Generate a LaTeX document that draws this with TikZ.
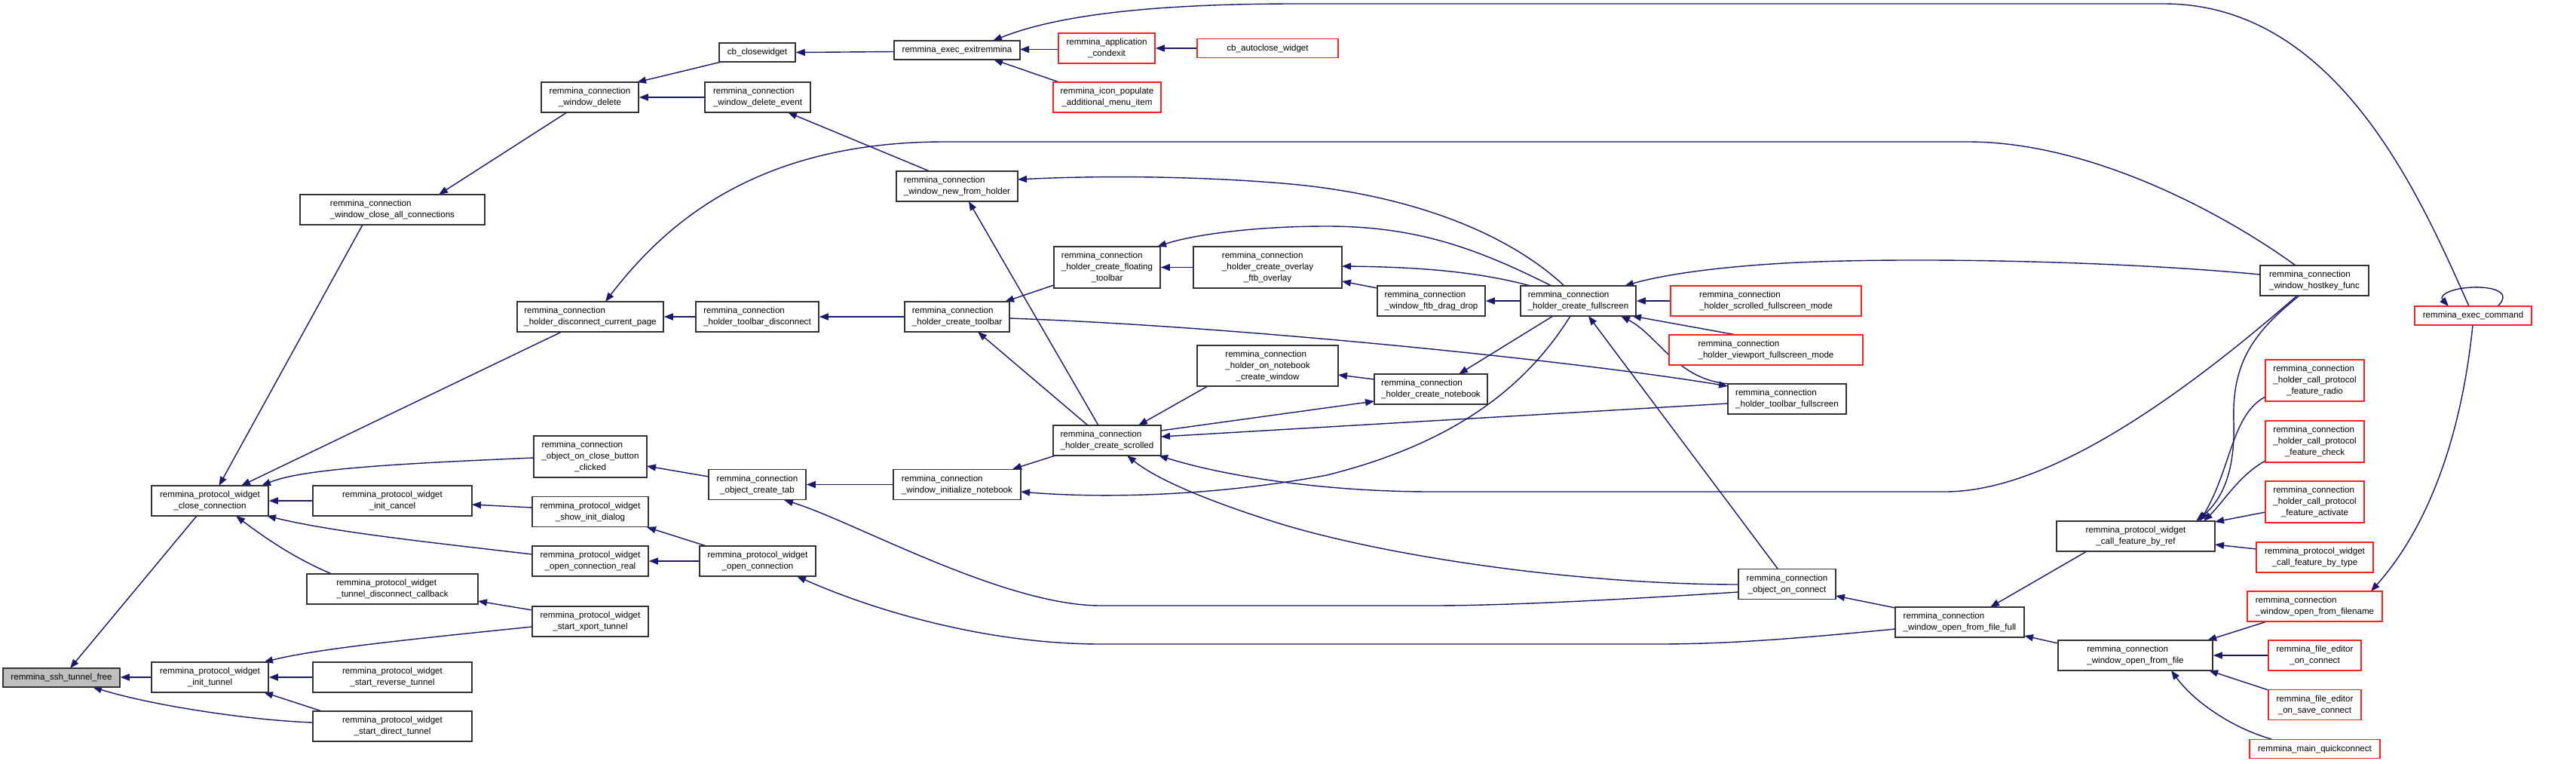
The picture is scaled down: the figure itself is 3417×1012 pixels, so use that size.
\documentclass[tikz,border=0pt]{standalone}
\usepackage{fontspec}
\setmainfont{Liberation Sans}
\usetikzlibrary{arrows.meta,calc}
\definecolor{edgec}{HTML}{191970}
\definecolor{nodeb}{HTML}{333333}
\definecolor{rootf}{HTML}{BFBFBF}
\definecolor{redb}{HTML}{FF2020}
\newcommand{\nf}{\fontsize{11.6}{15}\selectfont}
\newcommand{\lA}[2]{\begin{tabular}{@{}l@{}}#1\\\multicolumn{1}{@{}c@{}}{#2}\end{tabular}}
\newcommand{\lB}[3]{\begin{tabular}{@{}l@{}}#1\\#2\\\multicolumn{1}{@{}c@{}}{#3}\end{tabular}}
\pgfdeclarelayer{bg}
\pgfsetlayers{bg,main}
\tikzset{
  bx/.style={draw=nodeb, line width=1.5pt, fill=white, inner sep=0pt, rectangle, font=\nf, text=black},
  rb/.style={bx, draw=redb},
  ha/.style={minimum height=25pt},
  hb/.style={minimum height=40pt},
  hc/.style={minimum height=55pt},
  e/.style={draw=edgec, line width=1.4pt, -{Triangle[length=12pt,width=9pt]}, fill=none}
}
\begin{document}
\begin{tikzpicture}[x=1pt,y=-1pt]
\useasboundingbox (0,0) rectangle (3417,1012);
\begin{pgfonlayer}{bg}
\fill[white] (0,0) rectangle (3417,1012);
\end{pgfonlayer}
% nodes
\node[bx,ha,fill=rootf,minimum width=155pt] (free) at (81.5,898.5) {remmina\_ssh\_tunnel\_free};
\node[bx,hb,minimum width=155pt] (close) at (278.5,664) {\lA{remmina\_protocol\_widget}{\_close\_connection}};
\node[bx,hb,minimum width=155pt] (inittun) at (278.5,898) {\lA{remmina\_protocol\_widget}{\_init\_tunnel}};
\node[bx,hb,minimum width=245pt] (closeall) at (520.5,278) {\lA{remmina\_connection}{\_window\_close\_all\_connections}};
\node[bx,hb,minimum width=211pt] (cancel) at (520.5,664) {\lA{remmina\_protocol\_widget}{\_init\_cancel}};
\node[bx,hb,minimum width=227pt] (tdcb) at (520.5,781) {\lA{remmina\_protocol\_widget}{\_tunnel\_disconnect\_callback}};
\node[bx,hb,minimum width=211pt] (rev) at (520.5,898) {\lA{remmina\_protocol\_widget}{\_start\_reverse\_tunnel}};
\node[bx,hb,minimum width=211pt] (direct) at (520.5,963) {\lA{remmina\_protocol\_widget}{\_start\_direct\_tunnel}};
\node[bx,hb,minimum width=129pt] (delete) at (782.5,129) {\lA{remmina\_connection}{\_window\_delete}};
\node[bx,hb,minimum width=194pt] (discpage) at (783,420) {\lA{remmina\_connection}{\_holder\_disconnect\_current\_page}};
\node[bx,hc,minimum width=150pt] (closebtn) at (783,605.5) {\lB{remmina\_connection}{\_object\_on\_close\_button}{\_clicked}};
\node[bx,hb,minimum width=154pt] (showinit) at (783,678.5) {\lA{remmina\_protocol\_widget}{\_show\_init\_dialog}};
\node[bx,hb,minimum width=154pt] (openreal) at (783,744) {\lA{remmina\_protocol\_widget}{\_open\_connection\_real}};
\node[bx,hb,minimum width=154pt] (xport) at (783,824) {\lA{remmina\_protocol\_widget}{\_start\_xport\_tunnel}};
\node[bx,ha,minimum width=101pt] (closewidget) at (1004.5,69.5) {cb\_closewidget};
\node[bx,hb,minimum width=140pt] (delevent) at (1005,129) {\lA{remmina\_connection}{\_window\_delete\_event}};
\node[bx,hb,minimum width=163pt] (tbdisc) at (1004.5,420) {\lA{remmina\_connection}{\_holder\_toolbar\_disconnect}};
\node[bx,hb,minimum width=129pt] (createtab) at (1004.5,642.5) {\lA{remmina\_connection}{\_object\_create\_tab}};
\node[bx,hb,minimum width=154pt] (openconn) at (1005,744) {\lA{remmina\_protocol\_widget}{\_open\_connection}};
\node[bx,ha,minimum width=167pt] (exit) at (1269.5,66.5) {remmina\_exec\_exitremmina};
\node[bx,hb,minimum width=161pt] (newholder) at (1269.5,247) {\lA{remmina\_connection}{\_window\_new\_from\_holder}};
\node[bx,hb,minimum width=139pt] (createtoolbar) at (1269.5,420) {\lA{remmina\_connection}{\_holder\_create\_toolbar}};
\node[bx,hb,minimum width=169pt] (initnb) at (1269.5,642.5) {\lA{remmina\_connection}{\_window\_initialize\_notebook}};
\node[rb,hb,minimum width=128pt] (condexit) at (1468,64) {\lA{remmina\_application}{\_condexit}};
\node[rb,hb,minimum width=143pt] (iconpop) at (1468.5,129) {\lA{remmina\_icon\_populate}{\_additional\_menu\_item}};
\node[bx,hc,minimum width=141pt] (floating) at (1468.5,354.5) {\lB{remmina\_connection}{\_holder\_create\_floating}{\_toolbar}};
\node[bx,hb,minimum width=143pt] (scrolled) at (1468.5,584) {\lA{remmina\_connection}{\_holder\_create\_scrolled}};
\node[rb,ha,minimum width=187pt] (autoclose) at (1681.5,64) {cb\_autoclose\_widget};
\node[bx,hc,minimum width=197pt] (overlay) at (1681.5,354.5) {\lB{remmina\_connection}{\_holder\_create\_overlay}{\_ftb\_overlay}};
\node[bx,minimum height=54pt,minimum width=187pt] (onnbcreate) at (1681.5,485) {\lB{remmina\_connection}{\_holder\_on\_notebook}{\_create\_window}};
\node[bx,hb,minimum width=143pt] (ftbdrag) at (1898.5,399) {\lA{remmina\_connection}{\_window\_ftb\_drag\_drop}};
\node[bx,hb,minimum width=150pt] (createnb) at (1898,516) {\lA{remmina\_connection}{\_holder\_create\_notebook}};
\node[bx,hb,minimum width=153pt] (fullscreen) at (2093.5,399) {\lA{remmina\_connection}{\_holder\_create\_fullscreen}};
\node[rb,hb,minimum width=253pt] (scrollfs) at (2342.5,399) {\lA{remmina\_connection}{\_holder\_scrolled\_fullscreen\_mode}};
\node[rb,hb,minimum width=257pt] (viewportfs) at (2342.5,464) {\lA{remmina\_connection}{\_holder\_viewport\_fullscreen\_mode}};
\node[bx,hb,minimum width=157pt] (tbfull) at (2370.5,529) {\lA{remmina\_connection}{\_holder\_toolbar\_fullscreen}};
\node[bx,hb,minimum width=129pt] (onconnect) at (2370.5,774.5) {\lA{remmina\_connection}{\_object\_on\_connect}};
\node[bx,hb,minimum width=171pt] (openfull) at (2599.5,825) {\lA{remmina\_connection}{\_window\_open\_from\_file\_full}};
\node[bx,hb,minimum width=210pt] (featref) at (2833,711) {\lA{remmina\_protocol\_widget}{\_call\_feature\_by\_ref}};
\node[bx,hb,minimum width=205pt] (openfile) at (2832.5,869) {\lA{remmina\_connection}{\_window\_open\_from\_file}};
\node[bx,hb,minimum width=144pt] (hostkey) at (3070,372) {\lA{remmina\_connection}{\_window\_hostkey\_func}};
\node[rb,ha,minimum width=155pt] (execcmd) at (3280.5,418.5) {remmina\_exec\_command};
\node[rb,hc,minimum width=131pt] (radio) at (3070.5,504.5) {\lB{remmina\_connection}{\_holder\_call\_protocol}{\_feature\_radio}};
\node[rb,hc,minimum width=131pt] (check) at (3070.5,585.5) {\lB{remmina\_connection}{\_holder\_call\_protocol}{\_feature\_check}};
\node[rb,hc,minimum width=131pt] (activate) at (3070.5,665.5) {\lB{remmina\_connection}{\_holder\_call\_protocol}{\_feature\_activate}};
\node[rb,hb,minimum width=155pt] (bytype) at (3070.5,739) {\lA{remmina\_protocol\_widget}{\_call\_feature\_by\_type}};
\node[rb,hb,minimum width=179pt] (openfilename) at (3070.5,804) {\lA{remmina\_connection}{\_window\_open\_from\_filename}};
\node[rb,hb,minimum width=123pt] (feoc) at (3070.5,869) {\lA{remmina\_file\_editor}{\_on\_connect}};
\node[rb,hb,minimum width=123pt] (fesc) at (3070.5,934.5) {\lA{remmina\_file\_editor}{\_on\_save\_connect}};
\node[rb,ha,minimum width=173pt] (quick) at (3070.5,993) {remmina\_main\_quickconnect};
% edges
\begin{pgfonlayer}{bg}
\draw[e] ($(close)+(-17.5,20)$) -- ($(free)+(11.5,-12.5)$);
\draw[e] (inittun.west) -- (free.east |- inittun.west);
\draw[e] ($(direct)+(-105.5,-5)$) .. controls (330,955) and (200,935) .. ($(free)+(41.5,12.5)$);
\draw[e] ($(closeall)+(-39.5,20)$) -- ($(close)+(12,-20)$);
\draw[e] ($(discpage)+(-38,20)$) -- ($(close)+(41.5,-20)$);
\draw[e] ($(closebtn)+(-75,1.5)$) .. controls (520,615) and (400,622) .. ($(close)+(68.5,-20)$);
\draw[e] (cancel.west) -- (close.east);
\draw[e] ($(openreal)+(-77,-9)$) .. controls (560,718) and (440,705) .. ($(close)+(75.5,20)$);
\draw[e] ($(tdcb)+(-80.5,-20)$) .. controls (390,740) and (350,712) .. ($(close)+(34.5,20)$);
\draw[e] ($(xport)+(-77,7)$) .. controls (560,846) and (420,860) .. ($(inittun)+(71.5,-20)$);
\draw[e] (rev.west) -- (inittun.east);
\draw[e] ($(direct)+(-93.5,-20)$) -- ($(inittun)+(71.5,20)$);
\draw[e] ($(delete)+(-30.5,20)$) -- ($(closeall)+(61.5,-20)$);
\draw[e] ($(closewidget)+(-47.5,12.5)$) -- ($(delete)+(62.5,-20)$);
\draw[e] (delevent.west) -- (delete.east);
\draw[e] ($(newholder)+(-36.5,-20)$) -- ($(delevent)+(40,20)$);
\draw[e] ($(exit)+(-83.5,2)$) -- (closewidget.east);
\draw[e] ($(condexit)+(-64,1.5)$) -- ($(exit)+(83.5,-1)$);
\draw[e] ($(iconpop)+(-63.5,-20)$) -- ($(exit)+(48.5,12.5)$);
\draw[e] ($(execcmd)+(-5.5,-12.5)$) .. controls (3210,260) and (3100,5) .. (2870,5) -- (1720,5) .. controls (1500,5) and (1390,25) .. ($(exit)+(47.5,-12.5)$);
\draw[e] (autoclose.west) -- (condexit.east);
\draw[e] (tbdisc.west) -- (discpage.east);
\draw[e] ($(hostkey)+(-25,-20)$) .. controls (2960,290) and (2780,188) .. (2610,188) -- (1253,188) .. controls (1000,188) and (880,300) .. ($(discpage)+(20,-20)$);
\draw[e] ($(fullscreen)+(-18.5,-20)$) .. controls (1990,300) and (1850,255) .. (1700,243) .. controls (1580,233) and (1450,233) .. ($(newholder)+(80.5,-9)$);
\draw[e] ($(scrolled)+(-11.5,-20)$) -- ($(newholder)+(15.5,20)$);
\draw[e] (createtoolbar.west) -- (tbdisc.east);
\draw[e] ($(floating)+(-70.5,23.5)$) -- ($(createtoolbar)+(63.5,-20)$);
\draw[e] ($(scrolled)+(-25.5,-20)$) -- ($(createtoolbar)+(27.5,20)$);
\draw[e] ($(createtoolbar)+(69.5,2)$) .. controls (1650,433) and (2100,480) .. ($(tbfull)+(-78.5,-17)$);
\draw[e] (overlay.west) -- (floating.east);
\draw[e] ($(fullscreen)+(-35.5,-20)$) .. controls (1960,330) and (1880,300) .. (1760,300) .. controls (1660,300) and (1580,312) .. ($(floating)+(66.5,-27.5)$);
\draw[e] ($(fullscreen)+(-63.5,-20)$) .. controls (1960,360) and (1880,354) .. ($(overlay)+(98.5,-1.5)$);
\draw[e] ($(ftbdrag)+(-71.5,-17)$) -- ($(overlay)+(98.5,18.5)$);
\draw[e] (fullscreen.west) -- (ftbdrag.east);
\draw[e] ($(createnb)+(-75,-13)$) -- ($(onnbcreate)+(93.5,12)$);
\draw[e] ($(fullscreen)+(-33.5,20)$) -- ($(createnb)+(37,-20)$);
\draw[e] ($(scrolled)+(71.5,-13)$) -- ($(createnb)+(-75,16)$);
\draw[e] ($(fullscreen)+(-10.5,20)$) .. controls (2020,520) and (1920,590) .. (1760,630) .. controls (1600,660) and (1450,660) .. ($(initnb)+(84.5,9.5)$);
\draw[e] ($(tbfull)+(-75.5,-20)$) .. controls (2225,505) and (2200,445) .. ($(fullscreen)+(56.5,20)$);
\draw[e] ($(viewportfs)+(-39.5,-20)$) -- ($(fullscreen)+(71.5,20)$);
\draw[e] (scrollfs.west) -- (fullscreen.east);
\draw[e] ($(onconnect)+(-12.5,-20.5)$) -- ($(fullscreen)+(13.5,20)$);
\draw[e] ($(hostkey)+(-72,-8)$) .. controls (2800,345) and (2500,340) .. (2350,350) .. controls (2260,356) and (2200,366) .. ($(fullscreen)+(61.5,-20)$);
\draw[e] ($(onnbcreate)+(-79.5,27)$) -- ($(scrolled)+(41.5,-20)$);
\draw[e] ($(tbfull)+(-78.5,6)$) -- ($(scrolled)+(71.5,-5)$);
\draw[e] ($(hostkey)+(-23,20)$) .. controls (2900,520) and (2720,652) .. (2580,652) -- (1900,652) .. controls (1750,652) and (1620,630) .. ($(scrolled)+(68.5,20)$);
\draw[e] ($(scrolled)+(-68.5,20)$) -- ($(initnb)+(73.5,-20.5)$);
\draw[e] ($(onconnect)+(-64.5,0.5)$) .. controls (2100,775) and (1850,740) .. (1700,695) .. controls (1620,670) and (1540,640) .. ($(scrolled)+(26.5,20)$);
\draw[e] ($(onconnect)+(-64.5,10.5)$) .. controls (2150,795) and (2000,803) .. (1900,803) -- (1460,803) .. controls (1330,803) and (1130,690) .. ($(createtab)+(35.5,20.5)$);
\draw[e] ($(openfull)+(-85.5,9)$) .. controls (2400,845) and (2300,854) .. (2200,854) -- (1460,854) .. controls (1310,854) and (1160,810) .. ($(openconn)+(52,20)$);
\draw[e] ($(openfull)+(-85.5,-19)$) -- ($(onconnect)+(64.5,15.5)$);
\draw[e] ($(featref)+(-65,20)$) -- ($(openfull)+(40.5,-20)$);
\draw[e] ($(openfile)+(-102.5,-16)$) -- ($(openfull)+(85.5,18)$);
\draw[e] ($(hostkey)+(-20,20)$) .. controls (2990,440) and (2960,480) .. (2963,560) .. controls (2965,630) and (2945,665) .. ($(featref)+(80,-20)$);
\draw[e] ($(radio)+(-65.5,21.5)$) .. controls (2960,550) and (2960,620) .. ($(featref)+(85,-20)$);
\draw[e] ($(check)+(-65.5,25.5)$) .. controls (2970,630) and (2950,665) .. ($(featref)+(90,-20)$);
\draw[e] ($(activate)+(-65.5,13.5)$) -- ($(featref)+(105,-19)$);
\draw[e] ($(bytype)+(-77.5,-11)$) -- ($(featref)+(105,11)$);
\draw[e] ($(openfilename)+(-63.5,20)$) -- ($(openfile)+(95.5,-20)$);
\draw[e] (feoc.west) -- (openfile.east);
\draw[e] ($(fesc)+(-61.5,-19.5)$) -- ($(openfile)+(97.5,20)$);
\draw[e] ($(quick)+(-57.5,-13)$) .. controls (2960,965) and (2910,930) .. ($(openfile)+(47.5,20)$);
\draw[e] ($(execcmd)+(-0.5,12.5)$) .. controls (3265,580) and (3220,700) .. ($(openfilename)+(74.5,-20)$);
\draw[e] ($(execcmd)+(32.5,-12.5)$) .. controls (3335,385) and (3300,380) .. (3280,381) .. controls (3250,382) and (3235,392) .. ($(execcmd)+(-32.5,-12.5)$);
\draw[e] ($(createtab)+(-64.5,-10.5)$) -- ($(closebtn)+(75,12.5)$);
\draw[e] (initnb.west) -- (createtab.east);
\draw[e] ($(openconn)+(-68,-20)$) -- ($(showinit)+(75,20.5)$);
\draw[e] (openconn.west) -- (openreal.east);
\draw[e] ($(showinit)+(-77,-5.5)$) -- ($(cancel)+(105.5,5)$);
\draw[e] ($(xport)+(-77,-15)$) -- ($(tdcb)+(113.5,16)$);
\end{pgfonlayer}
\end{tikzpicture}
\end{document}
